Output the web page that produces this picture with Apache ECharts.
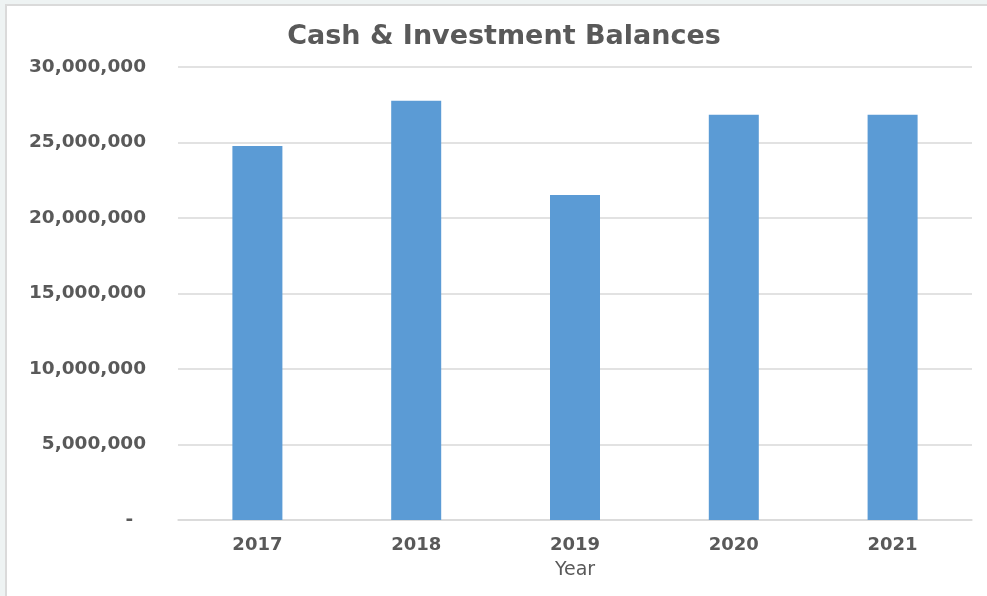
<!DOCTYPE html>
<html>
<head>
<meta charset="utf-8">
<script src="https://cdn.jsdelivr.net/npm/echarts@6/dist/echarts.min.js"></script>
<style>
  html, body { margin: 0; padding: 0; background: #eef3f3; overflow: hidden; }
  #main { position: absolute; left: 5px; top: 4px; width: 980px; height: 590px;
          background: #ffffff; border-left: 2px solid #dadada; border-top: 2px solid #dadada; }
</style>
</head>
<body>
<div id="main"></div>
<script>
const years = ['2017', '2018', '2019', '2020', '2021'];
const balances = [24770000, 27770000, 21520000, 26840000, 26840000];
const chartTitle = 'Cash & Investment Balances';
const xName = 'Year';

const chart = echarts.init(document.getElementById('main'));
const fmt = v => v === 0 ? '-  ' : v.toLocaleString('en-US');
chart.setOption({
  animation: false,
  title: {
    text: chartTitle,
    left: 492,
    textAlign: 'center',
    top: 12,
    textStyle: { fontFamily: 'DejaVu Sans', fontSize: 27, fontWeight: 'bold', color: '#595959' }
  },
  grid: { left: 171, right: 15, top: 61, bottom: 76 },
  xAxis: {
    type: 'category',
    data: years,
    name: xName,
    nameLocation: 'middle',
    nameGap: 41,
    nameTextStyle: { fontFamily: 'DejaVu Sans', fontSize: 19, color: '#595959' },
    axisLine: { lineStyle: { color: '#d9d9d9', width: 1.5 } },
    axisTick: { show: false },
    axisLabel: { margin: 16, fontFamily: 'DejaVu Sans', fontSize: 18, fontWeight: 'bold', color: '#595959' }
  },
  yAxis: {
    type: 'value',
    min: 0, max: 30000000, interval: 5000000,
    axisLine: { show: false },
    axisTick: { show: false },
    splitLine: { lineStyle: { color: '#d9d9d9', width: 1.5 } },
    axisLabel: { margin: 32, padding: [8, 0, 0, 0], formatter: fmt, fontFamily: 'DejaVu Sans', fontSize: 18.5, fontWeight: 'bold', color: '#595959' }
  },
  series: [{
    type: 'bar',
    data: balances,
    barWidth: 50,
    itemStyle: { color: '#5b9bd5' }
  }]
});
</script>
</body>
</html>
